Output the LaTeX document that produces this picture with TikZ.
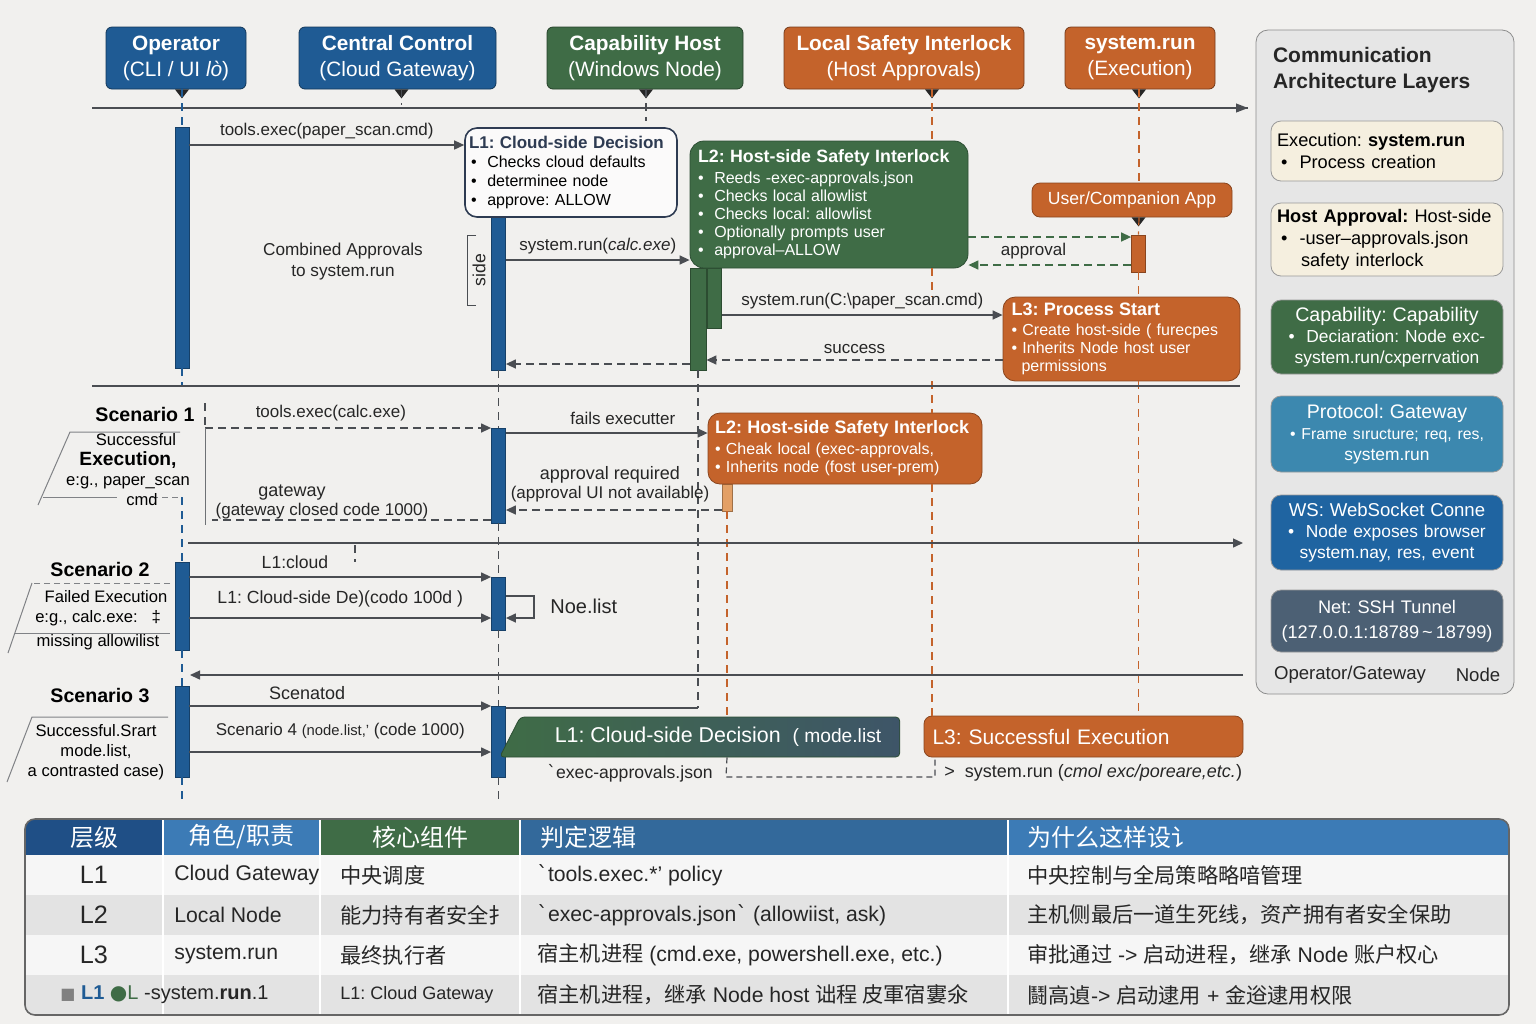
\documentclass[tikz,border=0pt]{standalone}
\usepackage{fontspec}
\setmainfont{Liberation Sans}
\newfontfamily\cjk{Noto Sans CJK SC}
\newfontfamily\symfont{DejaVu Sans}
\usetikzlibrary{arrows.meta,positioning,calc,shapes.geometric}
\frenchspacing

\definecolor{bgcol}{HTML}{F1F0EE}
\definecolor{opblue}{HTML}{1F5B94}
\definecolor{hostgreen}{HTML}{3F6C46}
\definecolor{hostdark}{HTML}{2C4E33}
\definecolor{safeorange}{HTML}{C4632B}
\definecolor{lightorange}{HTML}{E3A066}
\definecolor{linegray}{HTML}{4A4D52}
\definecolor{titlegray}{HTML}{2E3B52}
\definecolor{panelgray}{HTML}{E6E6E6}
\definecolor{cream}{HTML}{F5EFDF}
\definecolor{protoblue}{HTML}{3C88AF}
\definecolor{wsblue}{HTML}{1F64A1}
\definecolor{netslate}{HTML}{4C6074}
\definecolor{bannerslate}{HTML}{3E5568}
\definecolor{rowlight}{HTML}{F6F6F6}
\definecolor{rowdark}{HTML}{E3E3E3}
\definecolor{headblue}{HTML}{3C7BB6}
\definecolor{headdark}{HTML}{1F4F86}

\newcommand\fhead{\fontsize{10.4}{13}\selectfont}
\newcommand\fmsg{\fontsize{8.5}{9.5}\selectfont}
\newcommand\fbul{\fontsize{8}{9.4}\selectfont}
\newcommand\fscen{\fontsize{9.8}{11}\selectfont\bfseries}
\newcommand\fnotes{\fontsize{8.3}{10}\selectfont}
\newcommand\flay{\fontsize{9.1}{11}\selectfont}
\newcommand\ftab{\fontsize{10.6}{12}\selectfont}
\newcommand\bq{{\symfont ˋ}}

\begin{document}
\begin{tikzpicture}[x=0.5pt, y=-0.5pt,
        head/.style={rectangle, draw=#1!60!black, fill=#1, text=white, rounded corners=3pt, minimum height=31pt, align=center, inner sep=2pt, font=\fhead},
        bar/.style={rectangle, draw=#1!70!black, fill=#1, minimum width=7pt, inner sep=0pt},
        msg/.style={draw=linegray, line width=0.7pt, -{Triangle[length=5pt,width=4.5pt]}},
        reply/.style={msg, dash pattern=on 4pt off 2.5pt},
        life/.style={draw=#1, dash pattern=on 4pt off 3pt, line width=0.6pt},
        sep/.style={draw=linegray, line width=0.7pt},
        lbl/.style={font=\fmsg, text=black!85, inner sep=1pt},
        layer/.style={rectangle, rounded corners=5pt, draw=black!40, fill=#1, minimum width=116pt, text width=110pt, inner sep=3pt},
        cell/.style={rectangle, fill=#1, minimum height=18pt, inner sep=0pt, text=white, font=\fontsize{12}{14}\selectfont\cjk},
        tabtxt/.style={anchor=west, font=\ftab, text=black!85, inner sep=0pt}
    ]
        \useasboundingbox (0,0) rectangle (1536,1024);
        \fill[bgcol] (0,0) rectangle (1536,1024);

        % participants
        \node[head=opblue, minimum width=70pt] (op) at (176,58) {{\bfseries Operator}\\(CLI / UI {\itshape lò})};
        \node[head=opblue, minimum width=98.5pt] (cc) at (397.5,58) {{\bfseries Central Control}\\(Cloud Gateway)};
        \node[head=hostgreen, minimum width=98pt] (ch) at (645,58) {{\bfseries Capability Host}\\(Windows Node)};
        \node[head=safeorange, minimum width=120pt] (lsi) at (904,58) {{\bfseries Local Safety Interlock}\\(Host Approvals)};
        \node[head=safeorange, minimum width=75pt] (sr) at (1140,58) {{\bfseries system.run}\\(Execution)};

        \foreach \h/\dx in {op/3, cc/2, ch/0.5, lsi/14, sr/-0.5} {
            \coordinate (\h-pt) at ([xshift=\dx pt]\h.south);
            \fill[black!85] ([xshift=-3.5pt]\h-pt) -- ([xshift=3.5pt]\h-pt) -- ([yshift=-4.5pt]\h-pt) -- cycle;
        }

        \coordinate (tl-w) at (92,108);
        \coordinate (tl-e) at (1248,108);
        \coordinate (lowend) at (0,800);
        \coordinate (retD) at (0,708);

        % activation bars
        \node[bar=opblue, minimum height=120.5pt] (opA) at (182,247.5) {};
        \node[bar=opblue, minimum height=76.5pt] (ccA) at (498.5,293.5) {};
        \node[bar=hostgreen, minimum width=8pt, minimum height=51pt] (chA) at (698,319) {};
        \node[bar=hostgreen, minimum height=30pt] (chB) at (714.5,298) {};
        \node[bar=safeorange, minimum height=18.5pt] (ucA) at (1138.5,253.5) {};
        \node[bar=opblue, minimum height=47.5pt] (ccB) at (498.5,475.5) {};
        \node[bar=lightorange, minimum width=5pt, minimum height=13.5pt] (orB) at (727,497.5) {};
        \node[bar=opblue, minimum height=44pt] (opC) at (182,606) {};
        \node[bar=opblue, minimum height=26.5pt] (ccC) at (498.5,603.5) {};
        \node[bar=opblue, minimum height=45.5pt] (opD) at (182,731.5) {};
        \node[bar=opblue, minimum height=35.5pt] (ccD) at (498.5,741.5) {};

        % boxes
        \node[rectangle, draw=titlegray, fill=white!70!bgcol, line width=0.8pt, rounded corners=6pt, minimum width=106pt, minimum height=44.5pt, text width=102pt, align=left, inner sep=2pt, font=\fbul] (l1dec) at (571,172.5)
            {{\fontsize{8.5}{9.4}\selectfont\bfseries\color{titlegray}L1: Cloud-side Decision}\\ \hspace*{1pt}• \ Checks cloud defaults\\ \hspace*{1pt}• \ determinee node\\ \hspace*{1pt}• \ approve: ALLOW};
        \node[rectangle, draw=hostdark, fill=hostgreen, rounded corners=7pt, minimum width=139pt, minimum height=63.5pt, text width=131pt, align=left, inner sep=4pt, text=white, font=\fontsize{8}{9}\selectfont] (l2host) at (829,204.5)
            {{\fontsize{8.9}{9}\selectfont\bfseries L2: Host-side Safety Interlock}\\[1.5pt] • \ Reeds -exec-approvals.json\\ • \ Checks local allowlist\\ • \ Checks local: allowlist\\ • \ Optionally prompts user\\ • \ approval–ALLOW};
        \node[rectangle, draw=safeorange!70!black, fill=safeorange, rounded corners=4pt, minimum width=100pt, minimum height=17pt, text=white, font=\fontsize{8.8}{10}\selectfont] (ucapp) at (1132,200) {User/Companion App};
        \fill[black!85] (ucapp.south -| ucA) ++(-3.5pt,0) -- ++(7pt,0) -- ++(-3.5pt,-4.5pt) -- cycle;
        \node[rectangle, draw=safeorange!70!black, fill=safeorange, rounded corners=6pt, minimum width=118.5pt, minimum height=41pt, text width=110pt, align=left, inner sep=3pt, text=white, font=\fontsize{8}{9}\selectfont] (l3proc) at (1121.5,339)
            {{\fontsize{9}{9}\selectfont\bfseries L3: Process Start}\\[1pt] • Create host-side ( furecpes\\ • Inherits Node host user\\ \hspace*{5pt}permissions};
        \node[rectangle, draw=safeorange!70!black, fill=safeorange, rounded corners=6pt, minimum width=137pt, minimum height=35.5pt, text width=130pt, align=left, inner sep=3pt, text=white, font=\fontsize{8}{9}\selectfont] (l2or) at (845,448.5)
            {{\fontsize{9}{9}\selectfont\bfseries L2: Host-side Safety Interlock}\\[1.5pt] • Cheak local (exec-approvals,\\ • Inherits node (fost user-prem)};
        \node[trapezium, trapezium left angle=58, trapezium right angle=90, trapezium stretches body, left color=hostgreen, right color=bannerslate, draw=hostdark, rounded corners=2pt, minimum width=200pt, minimum height=20pt, text=white, font=\fontsize{10.7}{12}\selectfont] (ban1) at (710,737)
            {\hspace*{8pt}L1: Cloud-side Decision \ {\fontsize{9.6}{11}\selectfont( mode.list}};
        \node[rectangle, draw=safeorange!70!black, fill=safeorange, rounded corners=4pt, minimum width=159.5pt, minimum height=20.5pt, text width=151pt, align=left, text=white, inner sep=4pt, font=\fontsize{10.5}{12}\selectfont] (l3ban) at (1083.5,736.5) {L3: Successful Execution};

        % lifelines and rules
        \draw[sep] (tl-w) -- (tl-e);
        \fill[linegray] (tl-e) -- ++(-6pt,-2.3pt) -- ++(0,4.6pt) -- cycle;
        \draw[life=opblue] (op-pt) -- (opA.north);
        \draw[life=opblue] (opA.south) -- (opA.south |- 0,386);
        \draw[life=opblue] (opC.north |- 0,497) -- (opC.north);
        \draw[life=opblue] (opC.south) -- (opD.north);
        \draw[life=opblue] (opD.south) -- (opD.south |- lowend);
        \draw[life=linegray] (cc-pt) -- ++(0,-8pt);
        \draw[life=linegray] (ch-pt) -- ++(0,-16pt);
        \draw[life=linegray] (ccA.south) -- (ccB.north);
        \draw[life=linegray] (ccB.south) -- (ccC.north);
        \draw[life=linegray] (ccC.south) -- (ccD.north);
        \draw[life=linegray] (ccD.south) -- (ccD.south |- lowend);
        \draw[life=linegray] (chA.south) -- (chA.south |- retD);
        \draw[life=safeorange] (lsi-pt) -- (lsi-pt |- l2host.north);
        \draw[life=safeorange] (lsi-pt |- l2host.south) -- (lsi-pt |- l3proc.north);
        \draw[life=safeorange] (lsi-pt |- l3proc.south) -- (lsi-pt |- l2or.north);
        \draw[life=safeorange] (lsi-pt |- l2or.south) -- (lsi-pt |- l3ban.north);
        \draw[life=safeorange] (sr-pt) -- (ucapp.north -| sr-pt);
        \draw[life=safeorange] (ucapp.south -| sr-pt) -- (ucA.north);
        \draw[life=safeorange] (ucA.south) -- (l3proc.north -| ucA);
        \draw[life=safeorange] (l3proc.south -| ucA) -- (l3ban.north -| ucA);
        \draw[life=safeorange] (orB.south) -- (orB.south |- ban1.north);

        \coordinate (s1w) at (92,386);
        \coordinate (s1e) at (1240,386);
        \coordinate (s2w) at (188,543);
        \coordinate (s2e) at (1243,543);
        \coordinate (s3w) at (190,675);
        \coordinate (s3e) at (1243,675);
        \draw[sep] (s1w) -- (s1e);
        \draw[msg] (s2w) -- (s2e);
        \draw[msg] (s3e) -- (s3w);
        \draw[life=linegray] (355,545) -- (355,562);

        % message rows
        \coordinate (r1) at (0,145);
        \coordinate (r2) at (0,260);
        \coordinate (r3) at (0,237);
        \coordinate (r4) at (0,265);
        \coordinate (r5) at (0,315);
        \coordinate (r6) at (0,360);
        \coordinate (r7) at (0,364);
        \coordinate (r9) at (0,520);
        \coordinate (r10) at (0,433);
        \coordinate (r11) at (0,510);
        \coordinate (r12) at (0,577);
        \coordinate (r13) at (0,618);
        \coordinate (r14) at (0,596);
        \coordinate (r15) at (0,706);
        \coordinate (r16) at (0,752);

        \draw[msg] (opA.east |- r1) -- (l1dec.west |- r1) node[lbl, midway, above=1.5pt] (m1) {tools.exec(paper\_scan.cmd)};
        \draw[msg] (ccA.east |- r2) -- (l2host.west |- r2) node[lbl, midway, above=1.5pt] (m2) {system.run(\textit{calc.exe})};
        \draw[reply, draw=hostgreen] (l2host.east |- r3) -- (ucA.west |- r3);
        \draw[reply, draw=hostgreen] (ucA.west |- r4) -- (l2host.east |- r4) node[lbl, pos=0.6, above=1.5pt] (m4) {approval};
        \draw[msg] (chB.east |- r5) -- (l3proc.west |- r5) node[lbl, midway, above=1.5pt] (m5) {system.run(C:\textbackslash paper\_scan.cmd)};
        \draw[reply] (l3proc.west |- r6) -- (chA.east |- r6) node[lbl, midway, above=2pt] (m6) {success};
        \draw[reply] (chA.west |- r7) -- (ccA.east |- r7);

        % Scenario 1
        \coordinate (f1) at (205,428);
        \coordinate (f2) at (205,525);
        \coordinate (f3) at (212,520);
        \draw[life=linegray] (205,403) -- (f1);
        \draw[reply] (f1) -- (ccB.west |- f1) node[lbl, pos=0.44, above=2pt] (m8) {tools.exec(calc.exe)};
        \draw[linegray!80, line width=0.5pt] (f1) -- (f2);
        \draw[linegray, line width=0.7pt, dash pattern=on 4pt off 2.5pt] (ccB.west |- r9) -- (f3);
        \node[lbl, align=center] (m9) at (322,502) {{\fontsize{9}{9.5}\selectfont\hspace*{-30pt}gateway}\\(gateway closed code 1000)};
        \draw[msg] (ccB.east |- r10) -- (l2or.west |- r10) node[lbl, pos=0.58, above=3pt] (m10) {fails executter};
        \draw[reply] (orB.west |- r11) -- (ccB.east |- r11);
        \node[lbl, align=center] (m11) at (610,484) {{\fontsize{9}{9.5}\selectfont approval required}\\(approval UI not available)};

        % Scenario 2
        \draw[msg] (opC.east |- r12) -- (ccC.west |- r12) node[lbl, pos=0.35, above=3pt, font=\fontsize{8.8}{10}\selectfont] (m12) {L1:cloud};
        \draw[msg] (opC.east |- r13) -- (ccC.west |- r13) node[lbl, midway, above=4pt, font=\fontsize{8.8}{10}\selectfont] (m13) {L1: Cloud-side De)(codo 100d )};
        \draw[msg] (ccC.east |- r14) -- ++(14pt,0) |- (ccC.east |- r13);
        \node[lbl, anchor=west, font=\fontsize{10}{11}\selectfont] (m14) at (548,606) {Noe.list};

        % Scenario 3
        \draw[msg] (opD.east |- r15) -- (ccD.west |- r15) node[lbl, pos=0.39, above=2pt, font=\fontsize{9}{10}\selectfont] (m15) {Scenatod};
        \draw[msg] (opD.east |- r16) -- (ccD.west |- r16) node[lbl, midway, above=5pt] (m16) {Scenario 4 {\fontsize{7.4}{9}\selectfont(node.list,'} (code 1000)};
        \draw[sep, line width=0.6pt] (ccD.east |- retD) -- (chA.south |- retD);

        \node[lbl, font=\fontsize{8.8}{10}\selectfont] (ejson) at (630,773) {\bq exec-approvals.json};
        \coordinate (bk1) at (726,777);
        \coordinate (bk2) at (935,777);
        \draw[linegray, line width=0.6pt, dash pattern=on 3pt off 2pt] (orB.south |- ban1.south) -- (bk1) -- (bk2) -- (bk2 |- l3ban.south);
        \node[lbl, anchor=west, font=\fontsize{9}{10}\selectfont] (srun) at (942,773) {>\ \ system.run ({\itshape cmol exc/poreare,etc.})};

        \node[lbl, font=\fontsize{8.6}{10.5}\selectfont, align=center] (comb) at (343,262) {Combined Approvals\\to system.run};
        \draw[linegray, line width=0.5pt] (476,235) -- (467,235) -- (467,305) -- (476,305);
        \node[lbl, rotate=90, font=\fontsize{8.8}{10}\selectfont] (sidelbl) at (479,270) {side};

        % scenario notes
        \node[font=\fscen] (sc1) at (145,414) {Scenario 1};
        \node[font=\fscen] (sc2) at (100,569) {Scenario 2};
        \node[font=\fscen] (sc3) at (100,695) {Scenario 3};
        \draw[linegray!70, line width=0.5pt] (180,432) -- (70,432) -- (38,505);
        \draw[linegray!70, line width=0.5pt] (43,497) -- (117,497);
        \draw[linegray!70, line width=0.5pt, dash pattern=on 3pt off 2pt] (152,497) -- (182,497);
        \node[font=\fnotes, align=center, inner sep=0pt] (nt1) at (128,470) {\hspace*{8pt}Successful\\{\fontsize{9.6}{10}\selectfont\bfseries Execution,}\\e:g., paper\_scan\\\hspace*{14pt}cmd};
        \draw[linegray!70, line width=0.5pt, dash pattern=on 3pt off 2pt] (170,583) -- (32,583);
        \draw[linegray!70, line width=0.5pt] (32,583) -- (8,653);
        \draw[linegray!70, line width=0.5pt] (14,633) -- (170,633);
        \node[font=\fnotes, align=center, inner sep=0pt] (nt2) at (98,620) {\hspace*{8pt}Failed Execution\\e:g., calc.exe:\ \ \ ‡\\[2pt]missing allowilist};
        \draw[linegray!70, line width=0.5pt] (168,717) -- (32,717) -- (7,782);
        \node[font=\fnotes, align=center, inner sep=0pt] (nt3) at (96,752) {Successful.Srart\\mode.list,\\a contrasted case)};

        % layer panel
        \node[rectangle, draw=black!45, fill=panelgray, rounded corners=6pt, minimum width=129pt, minimum height=332pt] (panel) at (1385,362) {};
        \node[anchor=north west, align=left, font=\fontsize{10.5}{13}\selectfont\bfseries, text=black!85] (ptitle) at (1266,40) {Communication\\Architecture Layers};
        \node[layer=cream, minimum height=30pt, align=left, font=\flay] (lay1) at (1387,151) {Execution: {\bfseries system.run}\\\hspace*{2pt}• \ Process creation};
        \node[layer=cream, minimum height=36.5pt, align=left, font=\flay] (lay2) at (1387,239.5) {{\bfseries Host Approval:} Host-side\\\hspace*{2pt}• \ -user–approvals.json\\\hspace*{12pt}safety interlock};
        \node[layer=hostgreen, minimum height=37pt, align=center, text=white, font=\fontsize{8.7}{10.5}\selectfont] (lay3) at (1387,337) {{\fontsize{9.8}{11}\selectfont Capability: Capability}\\• \ Deciaration: Node exc-\\system.run/cxperrvation};
        \node[layer=protoblue, minimum height=38pt, align=center, text=white, font=\fontsize{8.7}{10.5}\selectfont] (lay4) at (1387,434) {{\fontsize{9.8}{11}\selectfont Protocol: Gateway}\\{\fontsize{7.9}{10}\selectfont • Frame sıructure; req, res,}\\system.run};
        \node[layer=wsblue, minimum height=37.5pt, align=center, text=white, font=\fontsize{8.7}{10.5}\selectfont] (lay5) at (1387,532.5) {{\fontsize{9.3}{11}\selectfont WS: WebSocket Conne}\\• \ Node exposes browser\\system.nay, res, event};
        \node[layer=netslate, minimum height=31pt, align=center, text=white, inner xsep=2pt, text width=112pt, font=\fontsize{9.1}{12.5}\selectfont] (lay6) at (1387,621) {Net: SSH Tunnel\\\mbox{(127.0.0.1:18789\,\textasciitilde\,18799)}};
        \node[font=\fontsize{9.3}{10}\selectfont, text=black!85] (pgw) at (1350,675) {Operator/Gateway};
        \node[font=\fontsize{9.3}{10}\selectfont, text=black!85] (pnode) at (1478,675) {Node};

        % table
        \begin{scope}
            \clip[rounded corners=5pt] (25,819) rectangle (1509,1015);
            \foreach \r/\c in {0/rowlight, 1/rowdark, 2/rowlight, 3/rowdark}
                \fill[\c] (25,{855+40*\r}) rectangle (1509,{895+40*\r});
            \node[cell=headdark, minimum width=69pt] (h1) at (94,837) {层级};
            \node[cell=headblue, minimum width=78.5pt] (h2) at (241.5,837) {角色/职责};
            \node[cell=hostgreen, minimum width=100pt] (h3) at (420,837) {核心组件};
            \node[cell=headblue!85!black, inner xsep=10pt, text width=224pt, align=left] (h4) at (764,837) {判定逻辑};
            \node[cell=headblue, inner xsep=9.5pt, text width=231.5pt, align=left] (h5) at (1258.5,837) {为什么这样设讠};
            \foreach \cx in {163,320,520,1008}
                \draw[white, line width=1.2pt] (\cx,819) -- (\cx,1015);
        \end{scope}
        \node[rectangle, draw=black!60, line width=0.8pt, rounded corners=5pt, minimum width=742pt, minimum height=98pt] (tab) at (767,917) {};

        \node[font=\fontsize{12.6}{14}\selectfont, text=black!85] (t11) at (94,875) {L1};
        \node[tabtxt] (t12) at (174,875) {Cloud Gateway};
        \node[tabtxt] (t13) at (340,875) {\cjk 中央调度};
        \node[tabtxt] (t14) at (537,875) {\bq tools.exec.*' policy};
        \node[tabtxt] (t15) at (1027,875) {\cjk 中央控制与全局策略略喑管理};

        \node[font=\fontsize{12.6}{14}\selectfont, text=black!85] (t21) at (94,915) {L2};
        \node[tabtxt] (t22) at (174,915) {Local Node};
        \node[tabtxt] (t23) at (340,915) {\cjk 能力持有者安全扌};
        \node[tabtxt] (t24) at (537,915) {\bq exec-approvals.json\bq\ (allowiist, ask)};
        \node[tabtxt] (t25) at (1027,915) {\cjk 主机侧最后一道生死线，资产拥有者安全保助};

        \node[font=\fontsize{12.6}{14}\selectfont, text=black!85] (t31) at (94,955) {L3};
        \node[tabtxt] (t32) at (174,955) {system.run};
        \node[tabtxt] (t33) at (340,955) {\cjk 最终执行者};
        \node[tabtxt] (t34) at (537,955) {{\cjk 宿主机进程} (cmd.exe, powershell.exe, etc.)};
        \node[tabtxt] (t35) at (1027,955) {{\cjk 审批通过} -> {\cjk 启动进程，继承} Node {\cjk 账户权心}};

        \node[tabtxt, font=\fontsize{10}{12}\selectfont] (t41) at (60,995) {{\symfont\color{black!50}\fontsize{8}{10}\selectfont■} {\bfseries\color{opblue}L1} {\symfont\color{hostgreen}●}{\color{hostgreen}L} -system.{\bfseries run}.1};
        \node[tabtxt, font=\fontsize{9}{11}\selectfont] (t43) at (340,995) {L1: Cloud Gateway};
        \node[tabtxt] (t44) at (537,995) {{\cjk 宿主机进程，继承} Node host {\cjk 诎程 皮軍宿寠氽}};
        \node[tabtxt] (t45) at (1027,995) {{\cjk 鬪高遉}-> {\cjk 启动逮用} + {\cjk 金逧逮用权限}};
    \end{tikzpicture}
\end{document}
